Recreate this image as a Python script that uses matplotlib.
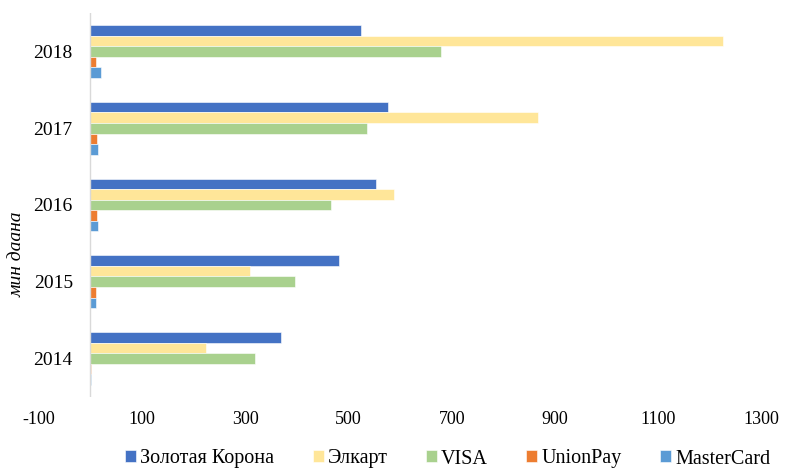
import numpy as np
import matplotlib.pyplot as plt

plt.rcParams['font.family'] = ['Liberation Serif', 'DejaVu Serif']

years = ['2014', '2015', '2016', '2017', '2018']
series = ['Золотая Корона', 'Элкарт', 'VISA', 'UnionPay', 'MasterCard']
korona = [370, 482, 553, 577, 524]
elcart = [223, 309, 587, 867, 1225]
visa = [319, 396, 466, 536, 679]
unionpay = [1, 11, 12, 12, 10]
mastercard = [1, 10, 14, 14, 21]
colors = ['#4472C4', '#FFE699', '#A9D18E', '#ED7D31', '#5B9BD5']
xticks = [-100, 100, 300, 500, 700, 900, 1100, 1300]

fig = plt.figure(figsize=(7.91, 4.68), dpi=100)
ax = fig.add_axes([0.049, 0.152, 0.914, 0.82])

y = np.arange(len(years))
h = 0.138
values = [korona, elcart, visa, unionpay, mastercard]
for i, (name, vals) in enumerate(zip(series, values)):
    # first series sits on top within each group
    offset = (2 - i) * h
    ax.barh(y + offset, vals, height=h, color=colors[i], label=name,
            edgecolor='white', linewidth=0.4)

ax.set_xlim(-100, 1300)
ax.set_ylim(-0.5, 4.5)
ax.set_yticks(y)
ax.set_yticklabels(years, fontsize=14)
ax.set_xticks(xticks)
ax.set_xticklabels([str(t) for t in xticks], fontsize=13)
ax.tick_params(length=0)
# year labels sit just left of the x=0 line, inside the axes
ax.tick_params(axis='y', pad=-24.5)
ax.tick_params(axis='x', pad=10)
for s in ax.spines.values():
    s.set_visible(False)
ax.axvline(0, color='#d9d9d9', linewidth=1)

fig.text(0.021, 1 - 254 / 468, 'мин даана', rotation=90, style='italic',
         fontsize=14, ha='center', va='center')

fig.legend(loc='center', bbox_to_anchor=(0.566, 1 - 459 / 468), ncol=5,
           frameon=False, fontsize=14.5, handlelength=0.55, handleheight=0.55,
           handletextpad=0.2, columnspacing=1.9)

fig.savefig('out.png', dpi=100)
